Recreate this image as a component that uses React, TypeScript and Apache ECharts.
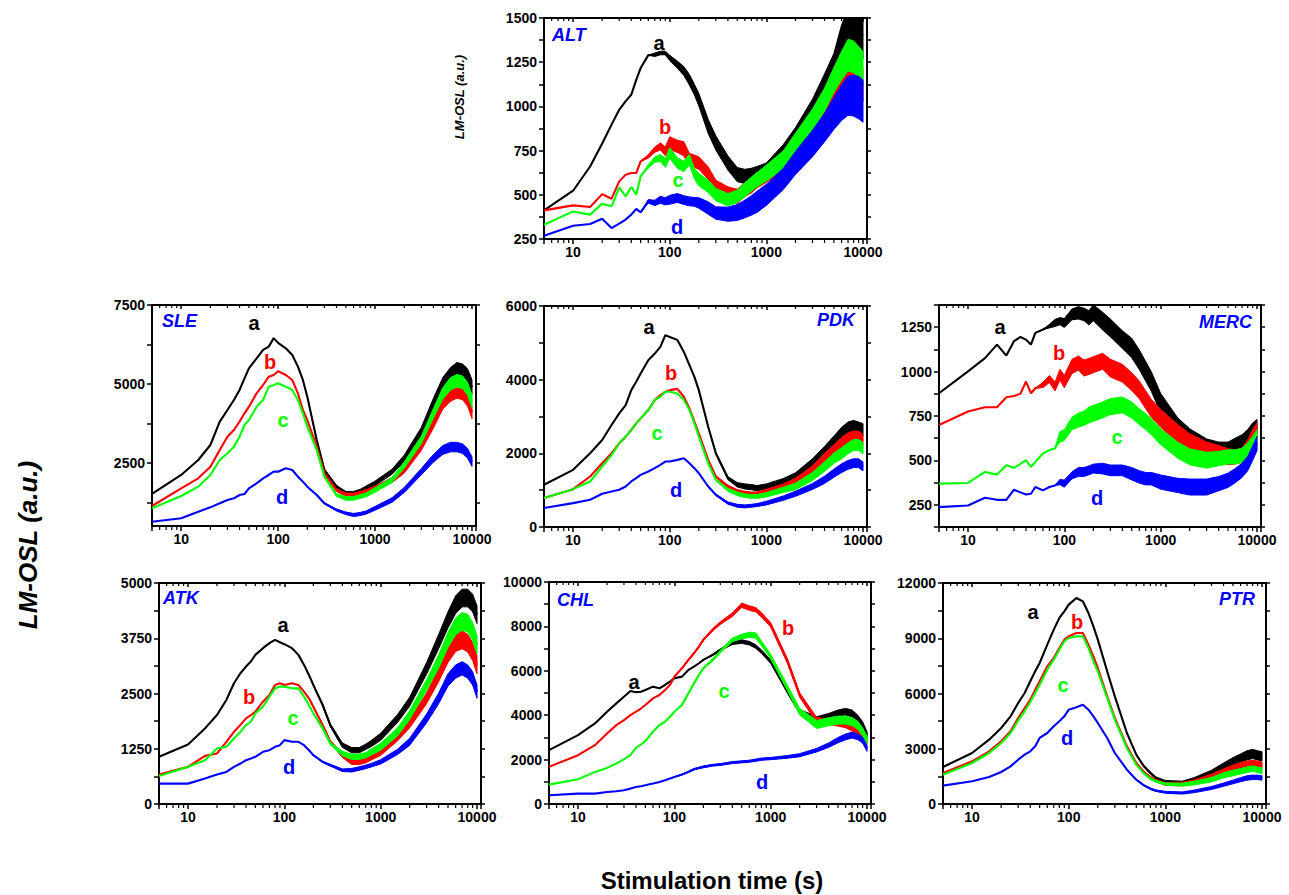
import React, { useEffect, useRef } from "react";
import * as echarts from "echarts";

// ---------------- DATA ----------------
// Stimulation time grid (s)
const TIME_S = [5, 10, 15, 20, 25, 30, 35, 40, 45, 50, 60, 70, 80, 90, 100, 120, 140, 160, 180, 200, 250, 300, 400, 500, 600, 700, 800, 1000, 1500, 2000, 3000, 4000, 5000, 6000, 7000, 8000, 9000, 10000];
const MINOR_TICKS_S = [6, 7, 8, 9, 20, 30, 40, 50, 60, 70, 80, 90, 200, 300, 400, 500, 600, 700, 800, 900, 2000, 3000, 4000, 5000, 6000, 7000, 8000, 9000];
const DECADE_LABELS = [10, 100, 1000, 10000];

// ALT
const ALT_A = [412, 523, 660, 790, 897, 981, 1030, 1066, 1150, 1217, 1290, 1292, 1302, 1302, 1274, 1236, 1200, 1150, 1095, 1038, 887, 793, 680, 614, 604, 610, 620, 640, 740, 830, 981, 1113, 1220, 1350, 1430, 1450, 1430, 1400];
const ALT_A_NOISE = [0, 0, 0, 0, 0, 0, 0, 0, 0, 0, 0, 10, 10, 10, 15, 20, 25, 30, 30, 35, 40, 40, 40, 40, 40, 40, 40, 40, 45, 50, 60, 70, 80, 110, 120, 130, 130, 130];
const ALT_B = [412, 440, 431, 504, 478, 576, 614, 623, 623, 689, 717, 755, 774, 746, 793, 774, 760, 699, 690, 680, 623, 548, 510, 491, 530, 550, 580, 610, 690, 770, 880, 990, 1080, 1150, 1200, 1190, 1160, 1120];
const ALT_B_NOISE = [0, 0, 0, 0, 0, 0, 0, 0, 0, 0, 10, 15, 20, 25, 35, 35, 40, 35, 35, 35, 35, 35, 35, 40, 40, 40, 40, 40, 45, 50, 60, 70, 80, 90, 90, 90, 90, 90];
const ALT_C = [331, 406, 388, 450, 435, 542, 491, 544, 501, 604, 661, 699, 708, 680, 736, 680, 660, 699, 620, 586, 548, 501, 472, 491, 529, 560, 586, 623, 699, 793, 925, 1038, 1150, 1230, 1290, 1280, 1250, 1220];
const ALT_C_NOISE = [0, 0, 0, 0, 0, 0, 0, 0, 0, 0, 10, 15, 20, 25, 30, 30, 30, 30, 30, 35, 35, 35, 35, 35, 40, 40, 40, 45, 50, 55, 60, 65, 70, 80, 90, 90, 90, 90];
const ALT_D = [269, 325, 335, 365, 312, 337, 360, 388, 420, 401, 463, 454, 472, 463, 472, 482, 470, 463, 460, 454, 425, 397, 390, 400, 420, 440, 460, 500, 590, 680, 790, 880, 960, 1020, 1060, 1060, 1050, 1030];
const ALT_D_NOISE = [0, 0, 0, 0, 0, 0, 0, 0, 0, 0, 10, 15, 20, 20, 25, 25, 25, 25, 25, 30, 35, 35, 40, 45, 50, 55, 60, 60, 60, 65, 75, 80, 90, 100, 110, 115, 120, 120];
const ALT_Y_LABELS = [250, 500, 750, 1000, 1250, 1500];
const ALT_Y_TICKS = [250, 375, 500, 625, 750, 875, 1000, 1125, 1250, 1375, 1500];

// SLE
const SLE_A = [1514, 2116, 2590, 3066, 3805, 4175, 4492, 4808, 5178, 5495, 5812, 6076, 6181, 6450, 6300, 6128, 5917, 5548, 5125, 4597, 3224, 2274, 1746, 1535, 1535, 1600, 1700, 1852, 2221, 2644, 3488, 4386, 5000, 5300, 5450, 5400, 5250, 4900];
const SLE_A_NOISE = [0, 0, 0, 0, 0, 0, 0, 0, 0, 0, 0, 0, 0, 0, 0, 0, 0, 0, 0, 0, 20, 30, 40, 60, 60, 60, 60, 70, 80, 100, 130, 160, 200, 220, 230, 230, 230, 230];
const SLE_B = [1134, 1693, 2010, 2380, 2908, 3330, 3541, 3805, 4069, 4280, 4703, 4967, 5231, 5284, 5400, 5284, 5125, 4703, 4175, 3858, 3013, 2168, 1640, 1482, 1482, 1535, 1588, 1693, 1957, 2274, 3013, 3752, 4386, 4650, 4750, 4700, 4500, 4100];
const SLE_B_NOISE = [0, 0, 0, 0, 0, 0, 0, 0, 0, 0, 0, 0, 0, 0, 0, 0, 0, 0, 0, 0, 20, 30, 40, 60, 60, 60, 60, 70, 80, 100, 120, 150, 180, 200, 200, 200, 200, 200];
const SLE_C = [1060, 1450, 1746, 2116, 2590, 2802, 3013, 3330, 3700, 3858, 4280, 4492, 4914, 4967, 5020, 4914, 4808, 4492, 4069, 3647, 2908, 2063, 1482, 1376, 1376, 1429, 1482, 1640, 1957, 2432, 3224, 4069, 4703, 5000, 5100, 5050, 4850, 4450];
const SLE_C_NOISE = [0, 0, 0, 0, 0, 0, 0, 0, 0, 0, 0, 0, 0, 0, 0, 0, 0, 0, 0, 0, 20, 30, 40, 60, 60, 60, 60, 70, 80, 100, 120, 150, 180, 200, 200, 200, 200, 200];
const SLE_D = [637, 743, 954, 1091, 1218, 1324, 1376, 1482, 1514, 1693, 1852, 2010, 2116, 2221, 2221, 2327, 2274, 2063, 1904, 1746, 1482, 1218, 1007, 901, 848, 880, 922, 1060, 1324, 1640, 2221, 2644, 2908, 3000, 3000, 2950, 2802, 2538];
const SLE_D_NOISE = [0, 0, 0, 0, 0, 0, 0, 0, 0, 0, 0, 0, 0, 0, 0, 0, 0, 0, 0, 0, 20, 20, 30, 40, 50, 50, 50, 60, 70, 80, 100, 120, 140, 150, 150, 150, 150, 150];
const SLE_Y_LABELS = [2500, 5000, 7500];
const SLE_Y_TICKS = [1250, 2500, 3750, 5000, 6250, 7500];

// PDK
const PDK_A = [1146, 1551, 2002, 2363, 2769, 3085, 3310, 3716, 3942, 4167, 4528, 4708, 4889, 5205, 5160, 5080, 4753, 4393, 4077, 3716, 2724, 2002, 1326, 1146, 1100, 1082, 1055, 1100, 1236, 1371, 1732, 2048, 2318, 2544, 2679, 2724, 2679, 2634];
const PDK_A_NOISE = [0, 0, 0, 0, 0, 0, 0, 0, 0, 0, 0, 0, 0, 0, 0, 0, 0, 0, 0, 0, 0, 20, 40, 60, 70, 70, 70, 70, 80, 100, 120, 140, 150, 160, 170, 170, 170, 170];
const PDK_B = [785, 1028, 1371, 1732, 2002, 2273, 2453, 2634, 2814, 2950, 3175, 3446, 3581, 3671, 3716, 3750, 3536, 3220, 2859, 2544, 1822, 1371, 1100, 965, 920, 902, 902, 965, 1100, 1236, 1551, 1867, 2093, 2273, 2408, 2453, 2453, 2363];
const PDK_B_NOISE = [0, 0, 0, 0, 0, 0, 0, 0, 0, 0, 0, 0, 0, 0, 0, 0, 0, 0, 0, 0, 0, 20, 40, 50, 50, 50, 50, 60, 70, 90, 110, 130, 140, 150, 150, 150, 150, 150];
const PDK_C = [785, 1028, 1236, 1642, 1950, 2273, 2453, 2634, 2814, 2950, 3175, 3446, 3536, 3671, 3671, 3626, 3446, 3175, 2814, 2453, 1732, 1281, 1010, 902, 848, 830, 830, 875, 1010, 1100, 1371, 1642, 1867, 2002, 2138, 2228, 2228, 2138];
const PDK_C_NOISE = [0, 0, 0, 0, 0, 0, 0, 0, 0, 0, 0, 0, 0, 0, 0, 0, 0, 0, 0, 0, 0, 20, 40, 50, 50, 50, 50, 60, 70, 90, 110, 130, 140, 150, 150, 150, 150, 150];
const PDK_D = [514, 649, 740, 902, 965, 1010, 1100, 1236, 1326, 1416, 1506, 1597, 1687, 1777, 1777, 1822, 1867, 1732, 1597, 1461, 1100, 875, 649, 577, 559, 577, 595, 649, 785, 902, 1100, 1281, 1461, 1597, 1687, 1732, 1732, 1642];
const PDK_D_NOISE = [0, 0, 0, 0, 0, 0, 0, 0, 0, 0, 0, 0, 0, 0, 0, 0, 0, 0, 0, 0, 0, 20, 30, 40, 40, 40, 40, 50, 60, 70, 80, 100, 110, 120, 120, 120, 120, 120];
const PDK_Y_LABELS = [0, 2000, 4000, 6000];
const PDK_Y_TICKS = [0, 1000, 2000, 3000, 4000, 5000, 6000];

// MERC
const MERC_A = [878, 1001, 1076, 1152, 1090, 1171, 1195, 1180, 1152, 1218, 1237, 1256, 1274, 1284, 1274, 1322, 1331, 1322, 1303, 1331, 1284, 1246, 1180, 1133, 1067, 1001, 944, 822, 690, 633, 576, 558, 558, 586, 605, 633, 671, 690];
const MERC_A_NOISE = [0, 0, 0, 0, 0, 0, 0, 0, 0, 0, 0, 10, 20, 20, 25, 30, 35, 35, 40, 45, 50, 50, 50, 55, 55, 55, 55, 55, 50, 45, 45, 45, 45, 40, 40, 40, 40, 40];
const MERC_B = [699, 775, 799, 799, 856, 863, 875, 944, 878, 906, 925, 958, 916, 982, 944, 1029, 1048, 1020, 1029, 1039, 1058, 1020, 991, 944, 897, 841, 793, 737, 652, 605, 558, 539, 520, 520, 529, 576, 633, 671];
const MERC_B_NOISE = [0, 0, 0, 0, 0, 0, 0, 0, 0, 0, 15, 20, 25, 30, 35, 40, 40, 45, 45, 45, 45, 50, 50, 50, 50, 50, 50, 50, 50, 45, 45, 45, 45, 40, 40, 40, 40, 40];
const MERC_C = [369, 373, 435, 420, 473, 458, 480, 501, 463, 492, 539, 558, 567, 633, 642, 708, 727, 737, 756, 765, 784, 803, 812, 784, 746, 718, 690, 633, 558, 520, 501, 510, 520, 520, 529, 558, 595, 633];
const MERC_C_NOISE = [0, 0, 0, 0, 0, 0, 0, 0, 0, 0, 0, 0, 0, 30, 30, 35, 40, 40, 45, 45, 45, 45, 45, 45, 45, 45, 45, 45, 45, 45, 45, 40, 40, 40, 40, 40, 40, 40];
const MERC_D = [237, 246, 290, 278, 278, 335, 320, 308, 312, 350, 331, 350, 359, 378, 369, 416, 435, 435, 444, 454, 454, 444, 444, 425, 407, 397, 397, 378, 359, 350, 350, 369, 388, 416, 444, 482, 539, 595];
const MERC_D_NOISE = [0, 0, 0, 0, 0, 0, 0, 0, 0, 0, 0, 0, 0, 15, 20, 20, 25, 25, 25, 25, 30, 30, 30, 35, 35, 35, 35, 40, 40, 45, 45, 40, 40, 40, 40, 40, 40, 40];
const MERC_Y_LABELS = [250, 500, 750, 1000, 1250];
const MERC_Y_TICKS = [125, 250, 375, 500, 625, 750, 875, 1000, 1125, 1250, 1375];

// ATK
const ATK_A = [1067, 1347, 1710, 2012, 2353, 2731, 2958, 3109, 3223, 3374, 3525, 3639, 3714, 3661, 3616, 3525, 3374, 3147, 2920, 2693, 2239, 1785, 1331, 1218, 1218, 1294, 1369, 1521, 1937, 2315, 3071, 3677, 4168, 4509, 4660, 4660, 4547, 4282];
const ATK_A_NOISE = [0, 0, 0, 0, 0, 0, 0, 0, 0, 0, 0, 0, 0, 0, 0, 0, 0, 0, 0, 0, 20, 30, 50, 60, 60, 60, 70, 80, 90, 100, 130, 160, 180, 200, 200, 200, 200, 200];
const ATK_B = [666, 840, 1089, 1142, 1407, 1634, 1790, 1937, 2012, 2088, 2315, 2466, 2693, 2731, 2693, 2731, 2693, 2542, 2391, 2201, 1785, 1407, 1104, 953, 953, 991, 1067, 1180, 1521, 1823, 2391, 2920, 3374, 3639, 3714, 3639, 3449, 3147];
const ATK_B_NOISE = [0, 0, 0, 0, 0, 0, 0, 0, 0, 0, 0, 0, 0, 0, 0, 0, 0, 0, 0, 0, 20, 30, 50, 60, 60, 60, 70, 80, 90, 100, 120, 150, 170, 190, 200, 200, 200, 200];
const ATK_C = [635, 840, 991, 1256, 1294, 1483, 1630, 1785, 1861, 2050, 2201, 2429, 2617, 2655, 2655, 2617, 2617, 2429, 2239, 2050, 1710, 1369, 1142, 1067, 1067, 1104, 1180, 1294, 1634, 2012, 2693, 3223, 3714, 4017, 4130, 4093, 3904, 3601];
const ATK_C_NOISE = [0, 0, 0, 0, 0, 0, 0, 0, 0, 0, 0, 0, 0, 0, 0, 0, 0, 0, 0, 0, 20, 30, 50, 60, 60, 60, 70, 80, 90, 100, 120, 150, 170, 190, 200, 200, 200, 200];
const ATK_D = [461, 461, 575, 666, 726, 840, 915, 991, 1029, 1067, 1180, 1218, 1294, 1331, 1445, 1407, 1407, 1331, 1218, 1104, 953, 878, 764, 764, 802, 840, 878, 953, 1180, 1407, 1937, 2391, 2807, 2996, 3071, 2996, 2844, 2542];
const ATK_D_NOISE = [0, 0, 0, 0, 0, 0, 0, 0, 0, 0, 0, 0, 0, 0, 0, 0, 0, 0, 0, 0, 15, 20, 30, 40, 40, 40, 40, 50, 60, 80, 100, 120, 140, 150, 150, 150, 150, 150];
const ATK_Y_LABELS = [0, 1250, 2500, 3750, 5000];
const ATK_Y_TICKS = [0, 625, 1250, 1875, 2500, 3125, 3750, 4375, 5000];

// CHL
const CHL_A = [2425, 3102, 3629, 4157, 4533, 4834, 5090, 5030, 5060, 5135, 5286, 5211, 5361, 5512, 5662, 5738, 6039, 6190, 6340, 6491, 6717, 6943, 7244, 7319, 7244, 7093, 6867, 6416, 5060, 4157, 3780, 3931, 4081, 4157, 4081, 3855, 3554, 3102];
const CHL_A_NOISE = [0, 0, 0, 0, 0, 0, 0, 0, 0, 0, 0, 0, 0, 0, 0, 0, 0, 0, 0, 0, 30, 40, 60, 80, 80, 80, 80, 80, 80, 100, 150, 150, 150, 150, 150, 150, 150, 150];
const CHL_B = [1672, 2199, 2651, 3178, 3554, 3780, 4006, 4157, 4300, 4458, 4759, 4910, 5135, 5361, 5738, 6114, 6491, 6792, 7093, 7394, 7846, 8147, 8524, 8950, 8825, 8750, 8524, 8072, 6416, 4910, 3780, 3705, 3629, 3554, 3404, 3253, 3102, 2801];
const CHL_B_NOISE = [0, 0, 0, 0, 0, 0, 0, 0, 0, 0, 0, 0, 0, 0, 0, 30, 30, 35, 35, 40, 50, 60, 80, 100, 100, 100, 100, 100, 100, 100, 120, 120, 120, 120, 120, 120, 120, 120];
const CHL_C = [873, 1114, 1446, 1626, 1822, 2018, 2199, 2530, 2680, 2831, 3253, 3554, 3705, 3931, 4157, 4458, 4985, 5437, 5813, 6114, 6491, 6867, 7394, 7545, 7620, 7590, 7244, 6641, 5211, 4157, 3584, 3705, 3780, 3780, 3705, 3554, 3253, 2876];
const CHL_C_NOISE = [0, 0, 0, 0, 0, 0, 0, 0, 0, 0, 0, 0, 0, 0, 0, 30, 30, 35, 35, 40, 50, 60, 80, 100, 120, 120, 100, 100, 120, 150, 180, 180, 180, 180, 180, 180, 180, 180];
const CHL_D = [392, 467, 467, 542, 572, 617, 693, 768, 800, 843, 919, 994, 1069, 1145, 1220, 1325, 1446, 1566, 1626, 1672, 1747, 1777, 1867, 1898, 1928, 1973, 2018, 2048, 2123, 2199, 2425, 2651, 2876, 3027, 3102, 3027, 2876, 2500];
const CHL_D_NOISE = [0, 0, 0, 0, 0, 0, 0, 0, 0, 0, 0, 0, 0, 0, 0, 20, 25, 30, 35, 40, 40, 40, 45, 45, 45, 50, 50, 50, 60, 70, 80, 100, 120, 130, 130, 130, 130, 130];
const CHL_Y_LABELS = [0, 2000, 4000, 6000, 8000, 10000];
const CHL_Y_TICKS = [0, 1000, 2000, 3000, 4000, 5000, 6000, 7000, 8000, 9000, 10000];

// PTR
const PTR_A = [2009, 2769, 3493, 4127, 4760, 5484, 6027, 6661, 7204, 7656, 8652, 9466, 10100, 10462, 10824, 11186, 11005, 10371, 9647, 8923, 7204, 5846, 3855, 2679, 2045, 1683, 1412, 1195, 1140, 1321, 1683, 2045, 2317, 2498, 2643, 2715, 2643, 2588];
const PTR_A_NOISE = [0, 0, 0, 0, 0, 0, 0, 0, 0, 0, 0, 0, 0, 0, 0, 0, 0, 0, 0, 0, 0, 0, 0, 0, 40, 50, 60, 80, 100, 120, 150, 180, 200, 220, 250, 250, 250, 250];
const PTR_B = [1683, 2317, 2860, 3403, 3946, 4670, 5213, 5665, 6208, 6661, 7475, 7928, 8471, 8923, 9104, 9285, 9285, 8652, 8018, 7385, 5846, 4670, 3131, 2226, 1738, 1448, 1267, 1086, 1086, 1195, 1466, 1738, 1919, 2045, 2136, 2172, 2136, 2082];
const PTR_B_NOISE = [0, 0, 0, 0, 0, 0, 0, 0, 0, 0, 0, 0, 0, 0, 0, 0, 0, 0, 0, 0, 0, 0, 0, 0, 40, 50, 60, 80, 100, 120, 150, 170, 190, 200, 200, 200, 200, 200];
const PTR_C = [1593, 2226, 2769, 3312, 3855, 4525, 5032, 5539, 6027, 6480, 7294, 7837, 8380, 8833, 9014, 9104, 9104, 8471, 7747, 7204, 5756, 4579, 3041, 2136, 1647, 1376, 1231, 1086, 1050, 1140, 1321, 1557, 1683, 1774, 1864, 1919, 1864, 1810];
const PTR_C_NOISE = [0, 0, 0, 0, 0, 0, 0, 0, 0, 0, 0, 0, 0, 0, 0, 0, 0, 0, 0, 0, 0, 0, 0, 0, 30, 40, 50, 60, 80, 100, 120, 140, 150, 150, 150, 150, 150, 150];
const PTR_D = [996, 1231, 1466, 1738, 2045, 2407, 2679, 2860, 3131, 3584, 3855, 4217, 4489, 4760, 5122, 5249, 5394, 5122, 4760, 4398, 3584, 2769, 1864, 1321, 1014, 833, 724, 634, 597, 688, 869, 1050, 1195, 1321, 1412, 1448, 1448, 1412];
const PTR_D_NOISE = [0, 0, 0, 0, 0, 0, 0, 0, 0, 0, 0, 0, 0, 0, 0, 0, 0, 0, 0, 0, 0, 0, 0, 0, 30, 35, 40, 50, 60, 70, 80, 90, 100, 110, 120, 120, 120, 120];
const PTR_Y_LABELS = [0, 3000, 6000, 9000, 12000];
const PTR_Y_TICKS = [0, 1500, 3000, 4500, 6000, 7500, 9000, 10500, 12000];

const CURVE_KEYS = ["a", "b", "c", "d"];

const PANELS = [
  { name: "ALT", yMin: 250, yMax: 1500, yLabels: ALT_Y_LABELS, yTicks: ALT_Y_TICKS, curves: [[ALT_A, ALT_A_NOISE], [ALT_B, ALT_B_NOISE], [ALT_C, ALT_C_NOISE], [ALT_D, ALT_D_NOISE]] },
  { name: "SLE", yMin: 500, yMax: 7500, yLabels: SLE_Y_LABELS, yTicks: SLE_Y_TICKS, curves: [[SLE_A, SLE_A_NOISE], [SLE_B, SLE_B_NOISE], [SLE_C, SLE_C_NOISE], [SLE_D, SLE_D_NOISE]] },
  { name: "PDK", yMin: 0, yMax: 6000, yLabels: PDK_Y_LABELS, yTicks: PDK_Y_TICKS, curves: [[PDK_A, PDK_A_NOISE], [PDK_B, PDK_B_NOISE], [PDK_C, PDK_C_NOISE], [PDK_D, PDK_D_NOISE]] },
  { name: "MERC", yMin: 125, yMax: 1375, yLabels: MERC_Y_LABELS, yTicks: MERC_Y_TICKS, curves: [[MERC_A, MERC_A_NOISE], [MERC_B, MERC_B_NOISE], [MERC_C, MERC_C_NOISE], [MERC_D, MERC_D_NOISE]] },
  { name: "ATK", yMin: 0, yMax: 5000, yLabels: ATK_Y_LABELS, yTicks: ATK_Y_TICKS, curves: [[ATK_A, ATK_A_NOISE], [ATK_B, ATK_B_NOISE], [ATK_C, ATK_C_NOISE], [ATK_D, ATK_D_NOISE]] },
  { name: "CHL", yMin: 0, yMax: 10000, yLabels: CHL_Y_LABELS, yTicks: CHL_Y_TICKS, curves: [[CHL_A, CHL_A_NOISE], [CHL_B, CHL_B_NOISE], [CHL_C, CHL_C_NOISE], [CHL_D, CHL_D_NOISE]] },
  { name: "PTR", yMin: 0, yMax: 12000, yLabels: PTR_Y_LABELS, yTicks: PTR_Y_TICKS, curves: [[PTR_A, PTR_A_NOISE], [PTR_B, PTR_B_NOISE], [PTR_C, PTR_C_NOISE], [PTR_D, PTR_D_NOISE]] },
];

// ---------------- LAYOUT / STYLE ----------------
const LAYOUT: Record<string, any> = {
  ALT: { box: [544, 18, 323, 221], nameXY: [552, 35], nameAlign: "left", letters: [[659, 43], [665, 127], [678, 180], [677, 227]] },
  SLE: { box: [152, 305, 324, 221], nameXY: [162, 321], nameAlign: "left", letters: [[254, 323], [270, 362], [283, 420], [282, 497]] },
  PDK: { box: [544, 306, 323, 221], nameXY: [855, 320], nameAlign: "right", letters: [[649, 327], [671, 373], [657, 433], [676, 490]] },
  MERC: { box: [939, 305, 322, 222], nameXY: [1252, 322], nameAlign: "right", letters: [[1000, 327], [1059, 353], [1117, 437], [1097, 498]] },
  ATK: { box: [159, 583, 322, 221], nameXY: [163, 598], nameAlign: "left", letters: [[283, 625], [249, 697], [293, 718], [289, 767]] },
  CHL: { box: [549, 582, 322, 222], nameXY: [557, 600], nameAlign: "left", letters: [[634, 682], [788, 628], [724, 691], [762, 782]] },
  PTR: { box: [943, 583, 323, 221], nameXY: [1255, 599], nameAlign: "right", letters: [[1033, 612], [1077, 622], [1063, 685], [1067, 738]] },
};
const COLORS = ["#000000", "#ff0000", "#00ff00", "#0000ff"];
const FONT = '"Liberation Sans", Arial, Helvetica, sans-serif';
const AXIS_LINE = { show: true, onZero: false, lineStyle: { color: "#000", width: 2 } };

function txt(text: string, x: number, y: number, font: string, fill: string, align: string, rotation = 0) {
  return {
    type: "text",
    x,
    y,
    rotation,
    z: 100,
    silent: true,
    style: { text, x: 0, y: 0, font, fill, align, verticalAlign: "middle", textAlign: align, textVerticalAlign: "middle" },
  };
}

function buildOption() {
  const grid: any[] = [];
  const xAxis: any[] = [];
  const yAxis: any[] = [];
  const series: any[] = [];
  const graphic: any[] = [];

  PANELS.forEach((p, i) => {
    const L = LAYOUT[p.name];
    grid.push({ left: L.box[0], top: L.box[1], width: L.box[2], height: L.box[3], containLabel: false });
    xAxis.push({
      type: "log", logBase: 10, gridIndex: i, min: 5, max: 11000, position: "bottom",
      axisLine: AXIS_LINE,
      axisTick: { show: true, inside: false, length: 5, lineStyle: { color: "#000", width: 1.5 } },
      axisLabel: {
        show: true, color: "#000", fontSize: 14, fontWeight: "bold", fontFamily: FONT, margin: 6,
        formatter: (v: number) => (DECADE_LABELS.includes(Math.round(v)) ? String(Math.round(v)) : ""),
      },
      splitLine: { show: false },
    });
    xAxis.push({
      type: "log", logBase: 10, gridIndex: i, min: 5, max: 11000, position: "top",
      axisLine: AXIS_LINE,
      axisTick: { show: true, inside: true, length: 4, lineStyle: { color: "#000", width: 1.5 } },
      axisLabel: { show: false },
      splitLine: { show: false },
    });
    yAxis.push({
      type: "value", gridIndex: i, min: p.yMin, max: p.yMax, position: "left",
      axisLine: AXIS_LINE,
      axisTick: { show: true, inside: false, length: 5, customValues: p.yTicks, lineStyle: { color: "#000", width: 1.5 } },
      axisLabel: {
        show: true, customValues: p.yLabels, color: "#000", fontSize: 14, fontWeight: "bold", fontFamily: FONT, margin: 7,
        formatter: (v: number) => String(v),
      },
      splitLine: { show: false },
    });
    yAxis.push({
      type: "value", gridIndex: i, min: p.yMin, max: p.yMax, position: "right",
      axisLine: AXIS_LINE,
      axisTick: { show: true, inside: false, length: 4, customValues: p.yTicks, lineStyle: { color: "#000", width: 1.5 } },
      axisLabel: { show: false },
      splitLine: { show: false },
    });

    const xi = 2 * i;
    const yi = 2 * i;
    p.curves.forEach(([vals, noise], k) => {
      const color = COLORS[k];
      let start = noise.findIndex((n: number) => n > 0);
      if (start > 0) start -= 1;
      if (start >= 0) {
        // noise band: the scatter of the measured signal around its trend
        series.push({
          type: "custom", xAxisIndex: xi, yAxisIndex: yi, clip: true, silent: true, z: 2 + 2 * k,
          data: [[TIME_S[start], vals[start]]],
          renderItem: (params: any, api: any) => {
            const upper: number[][] = [];
            const lower: number[][] = [];
            for (let j = start; j < TIME_S.length; j++) {
              upper.push(api.coord([TIME_S[j], vals[j] + noise[j]]));
              lower.push(api.coord([TIME_S[j], vals[j] - noise[j]]));
            }
            const cs = params.coordSys;
            return {
              type: "polygon",
              shape: { points: upper.concat(lower.reverse()) },
              style: { fill: color, stroke: color, lineWidth: 1 },
              clipPath: { type: "rect", shape: { x: cs.x, y: cs.y, width: cs.width, height: cs.height } },
            };
          },
        });
      }
      series.push({
        type: "line", name: `${p.name}-${CURVE_KEYS[k]}`, xAxisIndex: xi, yAxisIndex: yi, z: 3 + 2 * k,
        data: TIME_S.map((t, j) => [t, vals[j]]),
        symbol: "none", showSymbol: false, silent: true, lineStyle: { color, width: 2.1 },
      });
    });

    series.push({
      type: "custom", xAxisIndex: xi, yAxisIndex: yi, clip: false, silent: true, z: 20,
      data: MINOR_TICKS_S.map((t) => [t, p.yMin]),
      renderItem: (_params: any, api: any) => {
        const x = api.value(0);
        const b = api.coord([x, p.yMin]);
        const t = api.coord([x, p.yMax]);
        return {
          type: "group",
          children: [
            { type: "line", shape: { x1: b[0], y1: b[1] + 1, x2: b[0], y2: b[1] + 4 }, style: { stroke: "#000", lineWidth: 1.2 } },
            { type: "line", shape: { x1: t[0], y1: t[1] + 1, x2: t[0], y2: t[1] + 3 }, style: { stroke: "#000", lineWidth: 1.2 } },
          ],
        };
      },
    });

    graphic.push(txt(p.name, L.nameXY[0], L.nameXY[1], `italic bold 18px ${FONT}`, "#0000ff", L.nameAlign));
    L.letters.forEach((xy: number[], k: number) => {
      graphic.push(txt(CURVE_KEYS[k], xy[0], xy[1], `bold 20px ${FONT}`, COLORS[k], "center"));
    });
  });

  graphic.push(txt("LM-OSL (a.u.)", 459, 97, `italic bold 13px ${FONT}`, "#000", "center", Math.PI / 2));
  graphic.push(txt("LM-OSL (a.u.)", 28, 545, `italic bold 26px ${FONT}`, "#000", "center", Math.PI / 2));
  graphic.push(txt("Stimulation time (s)", 712, 880, `bold 24px ${FONT}`, "#000", "center"));

  return { animation: false, backgroundColor: "#fff", grid, xAxis, yAxis, series, graphic };
}

export default function App() {
  const ref = useRef<HTMLDivElement>(null);
  useEffect(() => {
    const chart = echarts.init(ref.current as HTMLDivElement, null, { renderer: "svg" });
    chart.setOption(buildOption() as any);
    return () => chart.dispose();
  }, []);
  return <div ref={ref} style={{ position: "fixed", left: 0, top: 0, width: 1289, height: 895, background: "#fff" }} />;
}
